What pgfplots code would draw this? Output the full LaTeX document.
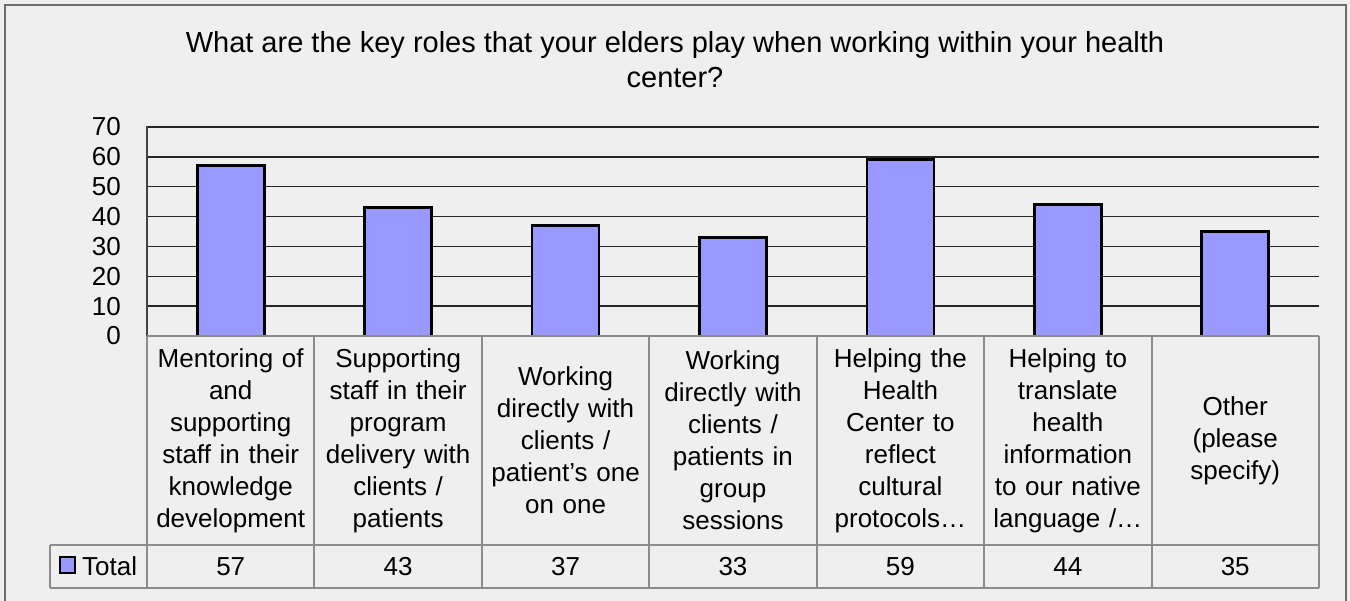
\documentclass[border=0pt]{standalone}
\usepackage{fontspec}
\setmainfont{Liberation Sans}
\usepackage{pgfplots}
\usepackage{pgfplotstable}
\pgfplotsset{compat=1.18}

\definecolor{bg}{HTML}{EFEFEF}
\definecolor{barblue}{HTML}{9999FF}
\definecolor{tablegray}{HTML}{8C8C8C}
\definecolor{framegray}{HTML}{6E6E6E}

% responses per role
\pgfplotstableread{
x v
0 57
1 43
2 37
3 33
4 59
5 44
6 35
}\roles

\begin{document}
\begin{tikzpicture}[x=1bp,y=1bp]
\useasboundingbox (0,0) rectangle (1350,601);
\fill[bg] (0,0) rectangle (1350,601);
\draw[framegray, line width=2bp] (5,0) -- (5,596) -- (1346,596) -- (1346,0);

\node[anchor=base, font=\fontsize{29bp}{35bp}\selectfont] at (675,548)
  {What are the key roles that your elders play when working within your health};
\node[anchor=base, font=\fontsize{29bp}{35bp}\selectfont] at (675,513) {center?};

\begin{axis}[
    at={(147bp,265bp)}, anchor=south west,
    scale only axis,
    width=1172bp, height=209bp,
    xmin=-0.5, xmax=6.5,
    ymin=0, ymax=70,
    ytick={0,10,...,70},
    xtick={0,...,6},
    xticklabels={
      {Mentoring of\\and\\supporting\\staff in their\\knowledge\\development},
      {Supporting\\staff in their\\program\\delivery with\\clients /\\patients},
      {Working\\directly with\\clients /\\patient’s one\\on one},
      {Working\\directly with\\clients /\\patients in\\group\\sessions},
      {Helping the\\Health\\Center to\\reflect\\cultural\\protocols…},
      {Helping to\\translate\\health\\information\\to our native\\language /…},
      {Other\\(please\\specify)}},
    ymajorgrids,
    grid style={black!85, line width=1.5bp},
    axis line style={draw=none},
    major tick length=0pt,
    tick style={draw=none},
    /pgf/number format/assume math mode=true,
    tick label style={font=\fontsize{26bp}{32bp}\selectfont},
    yticklabel style={anchor=east, inner sep=0pt, xshift=-26bp},
    xticklabel style={text width=165bp, align=center, anchor=center,
      inner sep=0pt, yshift=-104.5bp},
    clip=false,
]
\addplot[ybar, bar width=67bp, fill=barblue, draw=black, line width=2.7bp]
  table[x=x, y=v] {\roles};
% the data table row below the labels
\addplot[draw=none, mark=none, nodes near coords, point meta=explicit,
  every node near coord/.append style={anchor=center, yshift=-230.5bp,
    font=\fontsize{26bp}{32bp}\selectfont}]
  table[x=x, y expr=0, meta=v] {\roles};
\end{axis}

\draw[framegray!60!black, line width=2bp] (147,265) -- (147,475);
\begin{scope}[tablegray, line width=2bp]
  \draw (147,265) -- (1319,265);
  \draw (50,56) -- (1319,56);
  \draw (50,13) -- (1319,13);
  \foreach \i in {0,...,7} \draw ({147+\i*167.43},265) -- ({147+\i*167.43},13);
  \draw (50,56) -- (50,13);
\end{scope}
\draw[black, line width=2bp, fill=barblue] (60,28) rectangle (75,44);
\node[anchor=west, inner sep=0pt, font=\fontsize{26bp}{32bp}\selectfont] at (82,35) {Total};
\end{tikzpicture}
\end{document}
